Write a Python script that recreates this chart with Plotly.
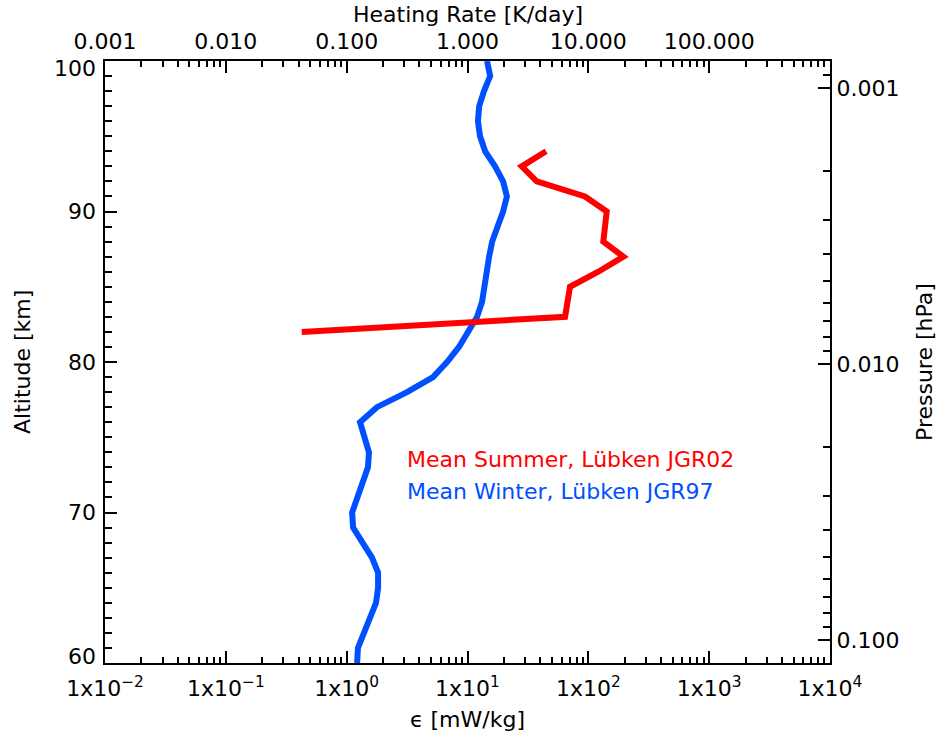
import numpy as np
import plotly.graph_objects as go

# Mean winter turbulent energy dissipation rate (Lübken JGR97)
alt_winter = list(range(100, 59, -1))
eps_winter = [14.5, 15.4, 13.7, 12.5, 12.2, 12.7, 14.0, 16.9, 19.7, 21.2,
              19.7, 17.5, 16.0, 15.1, 14.5, 14.0, 13.2, 12.0, 10.1, 8.5,
              6.77, 5.19, 3.16, 1.78, 1.29, 1.42, 1.53, 1.50, 1.36, 1.22,
              1.11, 1.13, 1.34, 1.62, 1.82, 1.82, 1.75, 1.56, 1.39, 1.24,
              1.22]

# Mean summer dissipation rate (Lübken JGR02)
alt_summer = [94, 93, 92, 91, 90, 89, 88, 87, 86, 85, 84, 83, 82]
eps_summer = [44.7, 28.1, 37.4, 93.8, 142, 137, 133, 195, 121, 70.5, 66.6,
              64.2, 0.425]

# Axis extents and tick labels
eps_range = [1e-2, 1e4]
heat_range = [1e-3, 1e3]
alt_range = [60, 100]
pres_range = [0.1211, 0.000798]  # bottom -> top

eps_ticks = [1e-2, 1e-1, 1e0, 1e1, 1e2, 1e3, 1e4]
eps_ticktext = ["1x10<sup>−2</sup>", "1x10<sup>−1</sup>", "1x10<sup>0</sup>",
                "1x10<sup>1</sup>", "1x10<sup>2</sup>", "1x10<sup>3</sup>",
                "1x10<sup>4</sup>"]
heat_ticks = [0.001, 0.01, 0.1, 1, 10, 100, 1000]
heat_ticktext = ["0.001", "0.010", "0.100", "1.000", "10.000", "100.000", ""]
alt_ticks = [60, 70, 80, 90, 100]
alt_ticktext = ["60", "70", "80", "90", "100"]
pres_ticks = [0.001, 0.01, 0.1]
pres_ticktext = ["0.001", "0.010", "0.100"]

FONT = "DejaVu Sans"
FS = 22
BLUE = "#0050ff"
RED = "#ff0000"


def log_minor(k0, k1):
    return [m * 10.0 ** k for k in range(k0, k1) for m in range(2, 10)]


fig = go.Figure()
fig.add_trace(go.Scatter(x=eps_winter, y=alt_winter, mode="lines",
                         line=dict(color=BLUE, width=6), showlegend=False))
fig.add_trace(go.Scatter(x=eps_summer, y=alt_summer, mode="lines",
                         line=dict(color=RED, width=6), showlegend=False))
# empty trace so the secondary (heating rate / pressure) axes get a subplot
fig.add_trace(go.Scatter(x=[None], y=[None], xaxis="x2", yaxis="y2",
                         mode="lines", showlegend=False, hoverinfo="skip"))

common = dict(showline=True, linecolor="black", linewidth=2,
              ticks="inside", ticklen=12, tickwidth=1.6, tickcolor="black",
              showgrid=False, zeroline=False,
              tickfont=dict(family=FONT, size=FS, color="black"))

fig.update_layout(
    width=938, height=740,
    margin=dict(l=105, r=108, t=61, b=77),
    paper_bgcolor="white", plot_bgcolor="white",
    font=dict(family=FONT, size=FS, color="black"),
    xaxis=dict(type="log", range=[np.log10(eps_range[0]), np.log10(eps_range[1])],
               tickvals=eps_ticks, ticktext=eps_ticktext, side="bottom",
               minor=dict(tickvals=log_minor(-2, 4), ticks="inside", ticklen=6,
                          tickwidth=1.6, tickcolor="black", showgrid=False),
               ticklabelstandoff=5, **common),
    xaxis2=dict(type="log", range=[np.log10(heat_range[0]), np.log10(heat_range[1])],
                tickvals=heat_ticks, ticktext=heat_ticktext, side="top",
                overlaying="x", anchor="y",
                minor=dict(tickvals=log_minor(-3, 3), ticks="inside", ticklen=6,
                           tickwidth=1.6, tickcolor="black", showgrid=False),
                ticklabelstandoff=1, **common),
    yaxis=dict(range=alt_range, tickvals=alt_ticks, showticklabels=False,
               minor=dict(dtick=1, ticks="inside", ticklen=7, tickwidth=1.6,
                          tickcolor="black", showgrid=False),
               **common),
    yaxis2=dict(type="log", range=[np.log10(pres_range[0]), np.log10(pres_range[1])],
                tickvals=pres_ticks, ticktext=pres_ticktext, side="right",
                overlaying="y", anchor="x",
                minor=dict(tickvals=log_minor(-4, 0), ticks="inside", ticklen=7,
                           tickwidth=1.6, tickcolor="black", showgrid=False),
                **common),
)

# Altitude tick labels; the end labels sit just inside the axis span
for val, txt in zip(alt_ticks, alt_ticktext):
    shift = -7 if val == alt_range[1] else (7 if val == alt_range[0] else 0)
    fig.add_annotation(xref="paper", yref="y", x=0, y=val, text=txt,
                       xanchor="right", yanchor="middle", xshift=-7,
                       yshift=shift, showarrow=False,
                       font=dict(family=FONT, size=FS, color="black"))

# Axis titles
titles = [
    dict(text="Heating Rate [K/day]", x=0.5, y=1.0, yshift=47, textangle=0),
    dict(text="ϵ [mW/kg]", x=0.5, y=0.0, yshift=-56, textangle=0),
    dict(text="Altitude [km]", x=0.0, y=0.5, xshift=-83, textangle=-90),
    dict(text="Pressure [hPa]", x=1.0, y=0.5, xshift=94, textangle=-90),
]
for t in titles:
    fig.add_annotation(xref="paper", yref="paper", showarrow=False,
                       xanchor="center", yanchor="middle",
                       font=dict(family=FONT, size=FS, color="black"), **t)

# Series labels
fig.add_annotation(x=np.log10(3.04), y=73.5, text="Mean Summer, Lübken JGR02",
                   xanchor="left", yanchor="middle", showarrow=False,
                   font=dict(family=FONT, size=FS, color=RED))
fig.add_annotation(x=np.log10(3.04), y=71.4, text="Mean Winter, Lübken JGR97",
                   xanchor="left", yanchor="middle", showarrow=False,
                   font=dict(family=FONT, size=FS, color=BLUE))

fig.write_html("out.html")
